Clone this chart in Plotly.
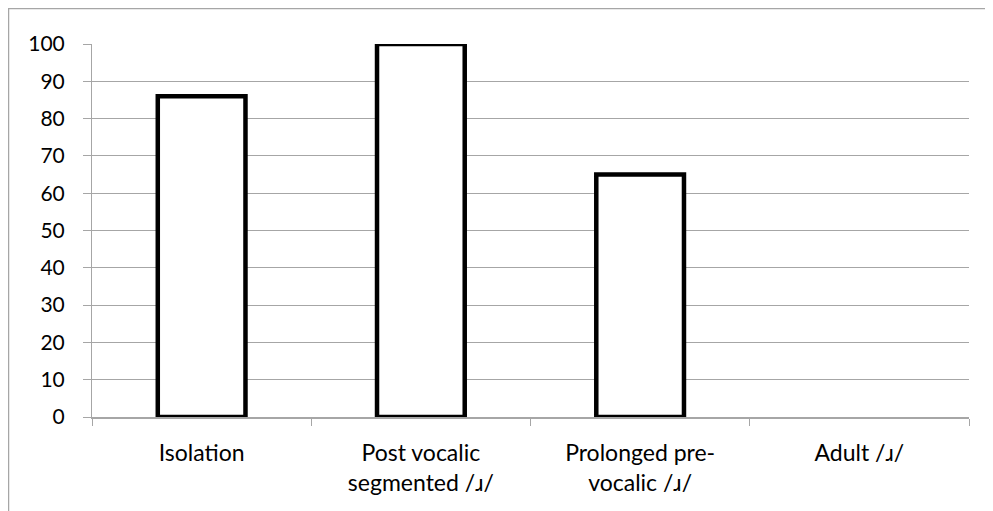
import plotly.graph_objects as go

categories = ["Isolation", "Post vocalic<br>segmented /ɹ/", "Prolonged pre-<br>vocalic /ɹ/", "Adult /ɹ/"]
values = [86, 100, 65, None]
y_ticks = list(range(0, 101, 10))

# page is offset by 8px body margin
W, H = 985, 503
L, R, T, B = 84, 24, 36, 94
pw, ph = W - L - R, H - T - B

def px_x(px):
    return (px - L) / pw

def px_y(py):
    return (H - B - py) / ph

fig = go.Figure(go.Bar(
    x=categories, y=values,
    marker=dict(color="white", line=dict(color="black", width=4.5)),
    width=0.4,
))

fig.update_layout(
    width=W, height=H,
    margin=dict(l=L, r=R, t=T, b=B),
    paper_bgcolor="white", plot_bgcolor="white",
    font=dict(family="Lato, Open Sans, sans-serif", size=23, color="black"),
    showlegend=False,
    shapes=[dict(type="rect", xref="paper", yref="paper",
                 x0=px_x(0.5), x1=px_x(1010), y0=px_y(520), y1=px_y(0.5),
                 line=dict(color="#a6a6a6", width=1.5), layer="below")],
)
fig.update_yaxes(range=[0, 100], tickvals=y_ticks, showgrid=True, gridcolor="#a6a6a6", gridwidth=1,
                 showline=True, linecolor="#a6a6a6", linewidth=1, ticks="outside", ticklen=8,
                 tickcolor="#a6a6a6", zeroline=False, tickfont=dict(size=21), ticklabelstandoff=14)
fig.update_xaxes(showgrid=False, showline=True, linecolor="#a6a6a6", linewidth=1.5,
                 ticks="outside", tickson="boundaries", ticklen=7, tickcolor="#a6a6a6",
                 tickfont=dict(size=23), ticklabelstandoff=15)

fig.write_html("out.html")
